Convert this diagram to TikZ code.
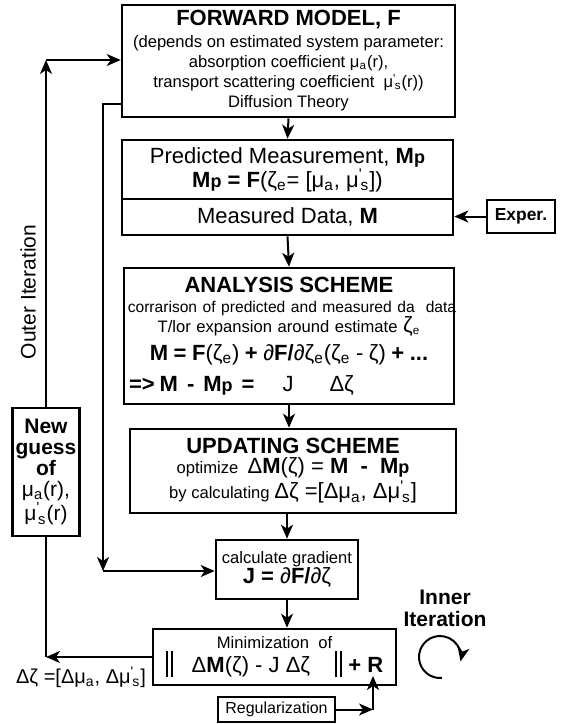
\documentclass[tikz,border=0pt]{standalone}
\usepackage{fontspec}
\setmainfont{Liberation Sans}
\usetikzlibrary{arrows.meta}
\newcommand\txtsmall{\fontsize{8.3}{10}\selectfont}
\newcommand\txtbig{\fontsize{11}{13}\selectfont}
\newcommand\txttitle{\fontsize{11}{13}\selectfont\bfseries}
\newcommand\mua{μ\textsubscript{a}}
\newcommand\mus{μ\textsuperscript{\textquotesingle}\kern-.1em\textsubscript{s}}
\newcommand\Mp{\textbf{M{\fontsize{9}{9}\selectfont p}}}
\newcommand\dbar{\rule[-2.5pt]{1.1pt}{13pt}\hspace{1.6pt}\rule[-2.5pt]{1.1pt}{13pt}}
\tikzset{
  fc_box/.style = {draw, rectangle, line width=1.3pt, align=center,
    inner sep=1pt, font=\txtsmall},% boite du schema
  fc_text/.style = {align=center, inner sep=0pt},% texte libre
  fc_line/.style = {line width=1pt}% liaison
}

\begin{document}
\begin{tikzpicture}[x=0.5pt,y=-0.5pt,>={Stealth[length=7pt,width=6pt,inset=2pt]}]
	\useasboundingbox (0,0) rectangle (562,724);

	\node [fc_box, minimum width=166.5pt, minimum height=56pt] (fwd) at (288.5,61)
		{{\txttitle FORWARD MODEL, F}\\[1pt]
		(depends on estimated system parameter:\\
		absorption coefficient \mua(r),\\
		transport scattering coefficient \ \mus(r))\\
		Diffusion Theory};
	\node [fc_box, minimum width=165.5pt, minimum height=29.5pt, font=\txtbig] (pred) at (287.5,169.5)
		{Predicted Measurement, \Mp\\[-1pt]
		\Mp\ \textbf{= F}(ζ\textsubscript{e}= [\mua, \mus])};
	\node [fc_box, minimum width=165.5pt, minimum height=18pt, font=\txtbig] (meas) at (287.5,217)
		{Measured Data, \textbf{M}};
	\node [fc_box, minimum width=34pt, minimum height=16.5pt, font=\fontsize{8.7}{10}\selectfont\bfseries] (exper) at (521,216.5)
		{Exper.};
	\node [fc_box, minimum width=165pt, minimum height=68pt, text width=160pt, inner xsep=2.5pt] (anal) at (289,336)
		{{\txttitle ANALYSIS SCHEME}\\
		\makebox[\linewidth]{\hspace*{3pt}\fontsize{7.8}{10}\selectfont corrarison of predicted and measured da\ \ data}\\
		T/lor expansion around estimate {\txtbig ζ}\textsubscript{e}\\[4pt]
		{\txtbig\textbf{M = F}(ζ\textsubscript{e}) \textbf{+} ∂\textbf{F/}∂ζ\textsubscript{e}(ζ\textsubscript{e} - ζ) \textbf{+ ...}}\\[4pt]
		\makebox[\linewidth][l]{\txtbig\textbf{=>}\hspace{2.5pt}\textbf{M}\hspace{4.5pt}\textbf{-}\hspace{4.5pt}\Mp\hspace{4.5pt}\textbf{=}\hspace{14pt}J\hspace{18pt}Δζ}};
	\node [fc_box, minimum width=163pt, minimum height=42pt] (upd) at (293,471)
		{{\txttitle UPDATING SCHEME}\\
		optimize \ {\txtbig Δ\textbf{M}(ζ) = \textbf{M}\ \ \textbf{-}\ \ \Mp}\\
		by calculating {\txtbig Δζ =[Δ\mua, Δ\mus]}};
	\node [fc_box, minimum width=71pt, minimum height=29.5pt] (grad) at (287,569.5)
		{calculate gradient\\
		{\txtbig\textbf{J =} ∂\textbf{F/}∂ζ}};
	\node [fc_box, minimum width=121.5pt, minimum height=28pt] (minim) at (274.5,657)
		{Minimization \ of\\
		{\txtbig\dbar\ \ \ Δ\textbf{M}(ζ) - J Δζ\ \ \ \ \dbar\ \textbf{+ R}}};
	\node [fc_box, minimum width=58.5pt, minimum height=12.5pt, line width=1pt, font=\fontsize{8}{9}\selectfont] (reg) at (276.5,709.5)
		{Regularization};
	\node [fc_box, minimum width=33.5pt, minimum height=64pt, font=\fontsize{10.5}{10.5}\selectfont] (guess) at (46,472)
		{\textbf{New}\\ \textbf{guess}\\ \textbf{of}\\ \mua(r),\\ \mus(r)};

	\node [fc_text, rotate=90, font=\fontsize{10.5}{12}\selectfont] (outer) at (28,292) {Outer Iteration};
	\node [fc_text, font=\fontsize{10.5}{11}\selectfont\bfseries] (inner) at (445,608) {Inner\\Iteration};
	\node [fc_text, font=\fontsize{10}{12}\selectfont] (dz) at (81,677) {Δζ =[Δ\mua, Δ\mus]};

	\coordinate (out_top) at (46,60);
	\coordinate (out_bot) at (46,657);
	\coordinate (in_top) at (103,104);
	\coordinate (in_bot) at (103,571);
	\coordinate (reg_cnr) at (373,709.5);
	\coordinate (r_tip) at (373,676);

	% chaine principale
	\draw [fc_line, ->] (fwd.south) -- (pred.north);
	\draw [fc_line, ->] (meas.south) -- (anal.north);
	\draw [fc_line, ->] (anal.south) -- (anal.south |- upd.north);
	\draw [fc_line, ->] (upd.south -| grad.north) -- (grad.north);
	\draw [fc_line, ->] (grad.south) -- (grad.south |- minim.north);
	\draw [fc_line, ->] (exper.west) -- (exper.west -| meas.east);
	% iteration externe
	\draw [fc_line, ->] (guess.north) -- (out_top);
	\draw [fc_line, ->] (out_top) -- (out_top -| fwd.west);
	\draw [fc_line, ->] (minim.west |- out_bot) -- (out_bot);
	\draw [fc_line] (out_bot) -- (guess.south);
	% gradient
	\draw [fc_line, ->] (in_top -| fwd.west) -- (in_top) -- (in_bot);
	\draw [fc_line, ->] (in_bot) -- (in_bot -| grad.west);
	% regularisation
	\draw [fc_line, ->] (reg.east) -- (reg_cnr);
	\draw [fc_line, ->] (reg_cnr) -- (r_tip);
	% iteration interne
	\draw [fc_line, ->] (440,657) ++(85:21) arc [start angle=85, end angle=372, radius=21];

\end{tikzpicture}
\end{document}
